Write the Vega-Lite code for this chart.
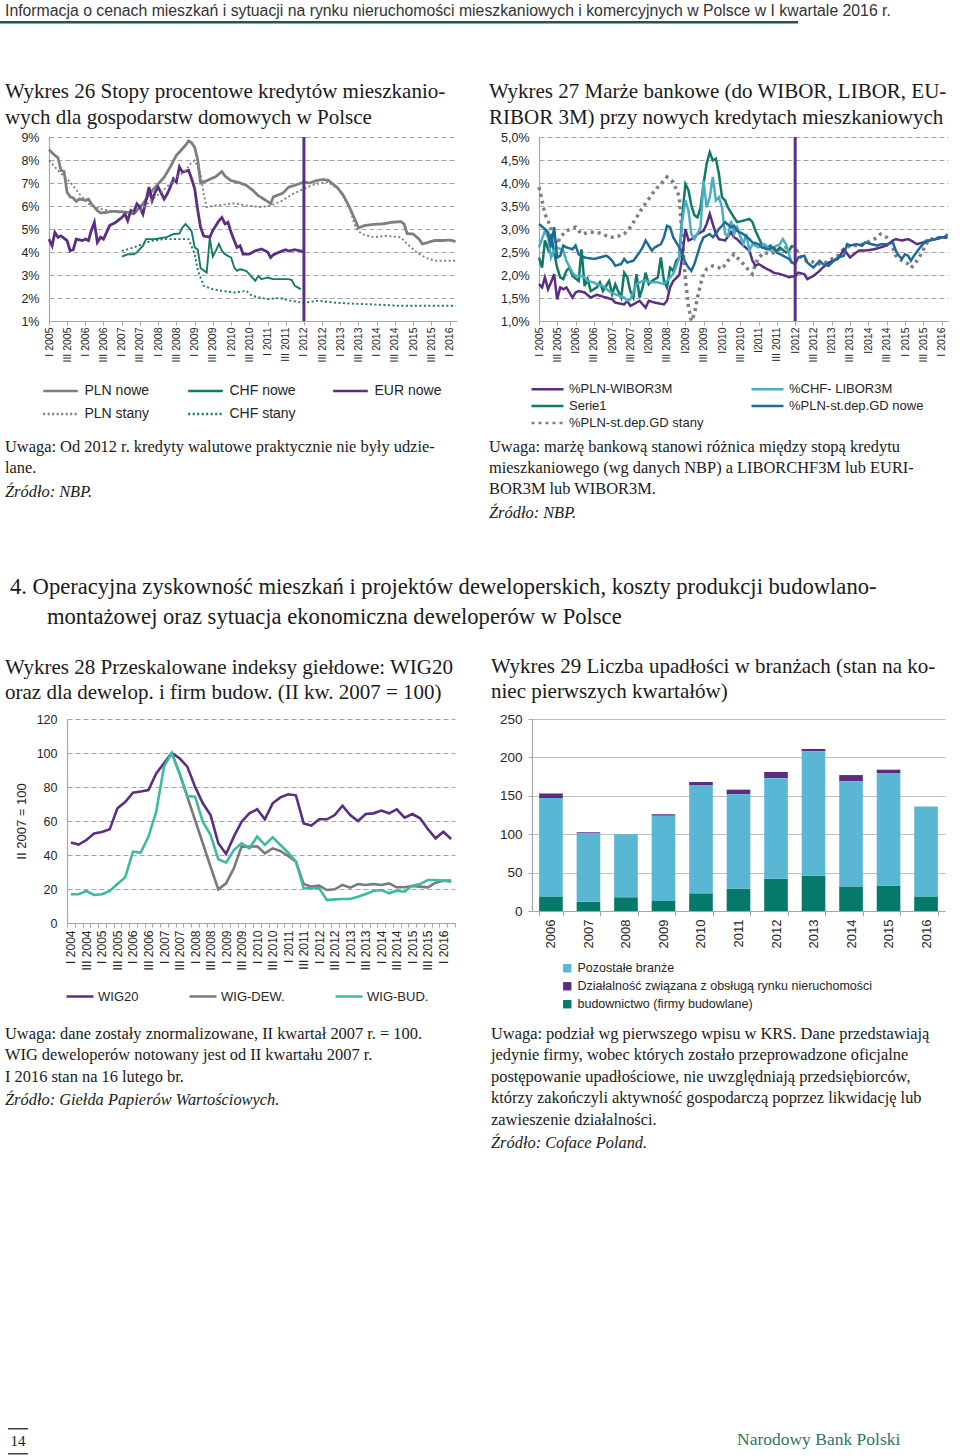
{
"$schema":"https://vega.github.io/schema/vega-lite/v6.json",
"background":"white",
"padding":{"left":0,"top":3,"right":0,"bottom":0},
"spacing":0,
"bounds":"flush",
"resolve":{"scale":{"color":"independent","strokeDash":"independent"},"legend":{"color":"independent","strokeDash":"independent"}},
"config":{
 "view":{"stroke":null},
 "font":"Liberation Sans",
 "title":{"font":"Liberation Serif","fontWeight":"normal","color":"#1a1a1a","anchor":"start","frame":"group","subtitleFont":"Liberation Serif","subtitleColor":"#1a1a1a","subtitleFontStyle":"italic"},
 "axis":{"labelFont":"Liberation Sans","labelColor":"#262626","titleFont":"Liberation Sans","titleFontWeight":"normal","titleColor":"#262626","domainColor":"#a6a6a6","tickColor":"#a6a6a6","gridColor":"#a6a6a6","domainWidth":1.2},
 "legend":{"labelFont":"Liberation Sans","labelColor":"#262626","labelLimit":400,"symbolStrokeWidth":2.5}
},
"vconcat":[
 {"width":798,"height":2.5,"view":{"fill":"#1d5a4e"},"data":{"values":[]},"mark":"point",
  "title":{"text":"Informacja o cenach mieszkań i sytuacji na rynku nieruchomości mieszkaniowych i komercyjnych w Polsce w I kwartale 2016 r.","font":"Liberation Sans","fontSize":15.8,"color":"#333333","offset":1,"dx":5}},
 {"width":1,"height":113,"data":{"values":[]},"mark":"point"},
 {"hconcat":[
  {"width":49,"height":184,"data":{"values":[]},"mark":"point"},
  {"width":408,"height":184,
   "title":{"text":["Wykres 26 Stopy procentowe kredytów mieszkanio-","wych dla gospodarstw domowych w Polsce"],"fontSize":21,"lineHeight":25.5,"dx":-44,"offset":3.5},
   "layer":[
    {"data":{"values":[
{"s":"PLN nowe","d":"2005-01","v":8.45},{"s":"PLN nowe","d":"2005-03","v":8.2},{"s":"PLN nowe","d":"2005-04","v":8.1},{"s":"PLN nowe","d":"2005-05","v":7.55},{"s":"PLN nowe","d":"2005-06","v":7.5},{"s":"PLN nowe","d":"2005-07","v":6.6},{"s":"PLN nowe","d":"2005-08","v":6.4},{"s":"PLN nowe","d":"2005-09","v":6.35},{"s":"PLN nowe","d":"2005-10","v":6.2},{"s":"PLN nowe","d":"2005-11","v":6.3},{"s":"PLN nowe","d":"2006-01","v":6.25},{"s":"PLN nowe","d":"2006-02","v":6.3},{"s":"PLN nowe","d":"2006-03","v":6.1},{"s":"PLN nowe","d":"2006-04","v":5.95},{"s":"PLN nowe","d":"2006-05","v":5.8},{"s":"PLN nowe","d":"2006-06","v":5.7},{"s":"PLN nowe","d":"2006-08","v":5.72},{"s":"PLN nowe","d":"2006-10","v":5.77},{"s":"PLN nowe","d":"2007-01","v":5.75},{"s":"PLN nowe","d":"2007-03","v":5.72},{"s":"PLN nowe","d":"2007-05","v":5.65},{"s":"PLN nowe","d":"2007-08","v":6.1},{"s":"PLN nowe","d":"2007-11","v":6.67},{"s":"PLN nowe","d":"2008-03","v":7.25},{"s":"PLN nowe","d":"2008-05","v":7.7},{"s":"PLN nowe","d":"2008-07","v":8.2},{"s":"PLN nowe","d":"2008-10","v":8.64},{"s":"PLN nowe","d":"2008-11","v":8.83},{"s":"PLN nowe","d":"2008-12","v":8.75},{"s":"PLN nowe","d":"2009-01","v":8.55},{"s":"PLN nowe","d":"2009-02","v":8.0},{"s":"PLN nowe","d":"2009-03","v":7.0},{"s":"PLN nowe","d":"2009-05","v":7.1},{"s":"PLN nowe","d":"2009-08","v":7.28},{"s":"PLN nowe","d":"2009-10","v":7.5},{"s":"PLN nowe","d":"2009-11","v":7.3},{"s":"PLN nowe","d":"2010-01","v":7.1},{"s":"PLN nowe","d":"2010-04","v":7.0},{"s":"PLN nowe","d":"2010-06","v":6.9},{"s":"PLN nowe","d":"2010-08","v":6.7},{"s":"PLN nowe","d":"2010-10","v":6.45},{"s":"PLN nowe","d":"2011-01","v":6.2},{"s":"PLN nowe","d":"2011-02","v":6.1},{"s":"PLN nowe","d":"2011-03","v":6.4},{"s":"PLN nowe","d":"2011-06","v":6.55},{"s":"PLN nowe","d":"2011-08","v":6.82},{"s":"PLN nowe","d":"2011-10","v":6.9},{"s":"PLN nowe","d":"2012-01","v":7.04},{"s":"PLN nowe","d":"2012-03","v":7.0},{"s":"PLN nowe","d":"2012-05","v":7.1},{"s":"PLN nowe","d":"2012-07","v":7.15},{"s":"PLN nowe","d":"2012-09","v":7.12},{"s":"PLN nowe","d":"2012-12","v":6.8},{"s":"PLN nowe","d":"2013-02","v":6.45},{"s":"PLN nowe","d":"2013-04","v":5.95},{"s":"PLN nowe","d":"2013-06","v":5.36},{"s":"PLN nowe","d":"2013-07","v":5.05},{"s":"PLN nowe","d":"2013-09","v":5.15},{"s":"PLN nowe","d":"2013-12","v":5.2},{"s":"PLN nowe","d":"2014-03","v":5.22},{"s":"PLN nowe","d":"2014-06","v":5.29},{"s":"PLN nowe","d":"2014-09","v":5.32},{"s":"PLN nowe","d":"2014-10","v":5.22},{"s":"PLN nowe","d":"2014-11","v":4.8},{"s":"PLN nowe","d":"2015-01","v":4.78},{"s":"PLN nowe","d":"2015-03","v":4.56},{"s":"PLN nowe","d":"2015-04","v":4.35},{"s":"PLN nowe","d":"2015-06","v":4.42},{"s":"PLN nowe","d":"2015-08","v":4.5},{"s":"PLN nowe","d":"2015-11","v":4.5},{"s":"PLN nowe","d":"2016-01","v":4.52},{"s":"PLN nowe","d":"2016-03","v":4.46},
{"s":"PLN stany","d":"2005-01","v":7.98},{"s":"PLN stany","d":"2005-04","v":7.55},{"s":"PLN stany","d":"2005-08","v":7.04},{"s":"PLN stany","d":"2005-11","v":6.53},{"s":"PLN stany","d":"2006-02","v":6.09},{"s":"PLN stany","d":"2006-06","v":5.87},{"s":"PLN stany","d":"2006-10","v":5.77},{"s":"PLN stany","d":"2007-02","v":5.68},{"s":"PLN stany","d":"2007-07","v":5.8},{"s":"PLN stany","d":"2007-10","v":6.16},{"s":"PLN stany","d":"2008-02","v":6.6},{"s":"PLN stany","d":"2008-06","v":7.1},{"s":"PLN stany","d":"2008-10","v":7.55},{"s":"PLN stany","d":"2008-12","v":7.9},{"s":"PLN stany","d":"2009-01","v":7.98},{"s":"PLN stany","d":"2009-03","v":7.4},{"s":"PLN stany","d":"2009-04","v":6.53},{"s":"PLN stany","d":"2009-05","v":5.95},{"s":"PLN stany","d":"2009-08","v":6.02},{"s":"PLN stany","d":"2010-02","v":6.12},{"s":"PLN stany","d":"2010-06","v":6.02},{"s":"PLN stany","d":"2010-11","v":5.95},{"s":"PLN stany","d":"2011-02","v":6.02},{"s":"PLN stany","d":"2011-06","v":6.24},{"s":"PLN stany","d":"2011-09","v":6.5},{"s":"PLN stany","d":"2012-01","v":6.75},{"s":"PLN stany","d":"2012-05","v":6.96},{"s":"PLN stany","d":"2012-09","v":7.04},{"s":"PLN stany","d":"2013-01","v":6.67},{"s":"PLN stany","d":"2013-04","v":5.95},{"s":"PLN stany","d":"2013-06","v":5.07},{"s":"PLN stany","d":"2013-08","v":4.78},{"s":"PLN stany","d":"2013-12","v":4.64},{"s":"PLN stany","d":"2014-04","v":4.7},{"s":"PLN stany","d":"2014-09","v":4.64},{"s":"PLN stany","d":"2014-11","v":4.35},{"s":"PLN stany","d":"2015-02","v":4.0},{"s":"PLN stany","d":"2015-05","v":3.76},{"s":"PLN stany","d":"2015-08","v":3.62},{"s":"PLN stany","d":"2015-11","v":3.62},{"s":"PLN stany","d":"2016-03","v":3.62},
{"s":"EUR nowe","d":"2005-01","v":4.56},{"s":"EUR nowe","d":"2005-02","v":4.27},{"s":"EUR nowe","d":"2005-03","v":4.85},{"s":"EUR nowe","d":"2005-04","v":4.64},{"s":"EUR nowe","d":"2005-05","v":4.7},{"s":"EUR nowe","d":"2005-07","v":4.5},{"s":"EUR nowe","d":"2005-08","v":4.05},{"s":"EUR nowe","d":"2005-09","v":4.1},{"s":"EUR nowe","d":"2005-10","v":4.56},{"s":"EUR nowe","d":"2005-12","v":4.5},{"s":"EUR nowe","d":"2006-01","v":4.56},{"s":"EUR nowe","d":"2006-02","v":4.5},{"s":"EUR nowe","d":"2006-03","v":4.93},{"s":"EUR nowe","d":"2006-04","v":5.29},{"s":"EUR nowe","d":"2006-05","v":4.42},{"s":"EUR nowe","d":"2006-06","v":4.64},{"s":"EUR nowe","d":"2006-07","v":4.56},{"s":"EUR nowe","d":"2006-08","v":4.85},{"s":"EUR nowe","d":"2006-09","v":5.15},{"s":"EUR nowe","d":"2006-11","v":5.29},{"s":"EUR nowe","d":"2007-01","v":5.5},{"s":"EUR nowe","d":"2007-02","v":5.65},{"s":"EUR nowe","d":"2007-03","v":5.36},{"s":"EUR nowe","d":"2007-04","v":5.8},{"s":"EUR nowe","d":"2007-05","v":5.73},{"s":"EUR nowe","d":"2007-06","v":6.09},{"s":"EUR nowe","d":"2007-07","v":5.95},{"s":"EUR nowe","d":"2007-08","v":5.65},{"s":"EUR nowe","d":"2007-09","v":6.24},{"s":"EUR nowe","d":"2007-10","v":6.82},{"s":"EUR nowe","d":"2007-11","v":6.24},{"s":"EUR nowe","d":"2007-12","v":6.6},{"s":"EUR nowe","d":"2008-01","v":6.82},{"s":"EUR nowe","d":"2008-03","v":6.3},{"s":"EUR nowe","d":"2008-04","v":6.53},{"s":"EUR nowe","d":"2008-05","v":6.82},{"s":"EUR nowe","d":"2008-06","v":7.18},{"s":"EUR nowe","d":"2008-07","v":7.04},{"s":"EUR nowe","d":"2008-08","v":7.7},{"s":"EUR nowe","d":"2008-09","v":7.47},{"s":"EUR nowe","d":"2008-11","v":7.55},{"s":"EUR nowe","d":"2008-12","v":7.18},{"s":"EUR nowe","d":"2009-01","v":6.75},{"s":"EUR nowe","d":"2009-02","v":5.8},{"s":"EUR nowe","d":"2009-03","v":5.07},{"s":"EUR nowe","d":"2009-04","v":4.7},{"s":"EUR nowe","d":"2009-06","v":4.64},{"s":"EUR nowe","d":"2009-07","v":4.93},{"s":"EUR nowe","d":"2009-09","v":5.36},{"s":"EUR nowe","d":"2009-10","v":5.5},{"s":"EUR nowe","d":"2009-11","v":5.22},{"s":"EUR nowe","d":"2009-12","v":5.29},{"s":"EUR nowe","d":"2010-01","v":4.85},{"s":"EUR nowe","d":"2010-03","v":4.2},{"s":"EUR nowe","d":"2010-04","v":4.27},{"s":"EUR nowe","d":"2010-05","v":3.91},{"s":"EUR nowe","d":"2010-07","v":3.91},{"s":"EUR nowe","d":"2010-09","v":4.05},{"s":"EUR nowe","d":"2010-11","v":4.13},{"s":"EUR nowe","d":"2011-01","v":4.0},{"s":"EUR nowe","d":"2011-02","v":3.76},{"s":"EUR nowe","d":"2011-03","v":3.88},{"s":"EUR nowe","d":"2011-05","v":4.0},{"s":"EUR nowe","d":"2011-07","v":4.1},{"s":"EUR nowe","d":"2011-08","v":4.04},{"s":"EUR nowe","d":"2011-10","v":4.1},{"s":"EUR nowe","d":"2011-12","v":4.04},{"s":"EUR nowe","d":"2012-01","v":4.02},
{"s":"CHF nowe","d":"2007-01","v":3.8},{"s":"CHF nowe","d":"2007-03","v":3.9},{"s":"CHF nowe","d":"2007-05","v":3.9},{"s":"CHF nowe","d":"2007-06","v":3.98},{"s":"CHF nowe","d":"2007-07","v":4.13},{"s":"CHF nowe","d":"2007-08","v":4.27},{"s":"CHF nowe","d":"2007-09","v":4.56},{"s":"CHF nowe","d":"2007-12","v":4.56},{"s":"CHF nowe","d":"2008-04","v":4.65},{"s":"CHF nowe","d":"2008-06","v":4.78},{"s":"CHF nowe","d":"2008-08","v":4.8},{"s":"CHF nowe","d":"2008-09","v":5.07},{"s":"CHF nowe","d":"2008-10","v":5.22},{"s":"CHF nowe","d":"2008-11","v":5.07},{"s":"CHF nowe","d":"2008-12","v":4.9},{"s":"CHF nowe","d":"2009-01","v":4.2},{"s":"CHF nowe","d":"2009-02","v":4.1},{"s":"CHF nowe","d":"2009-03","v":3.3},{"s":"CHF nowe","d":"2009-04","v":3.2},{"s":"CHF nowe","d":"2009-05","v":3.1},{"s":"CHF nowe","d":"2009-06","v":4.6},{"s":"CHF nowe","d":"2009-07","v":3.8},{"s":"CHF nowe","d":"2009-08","v":4.05},{"s":"CHF nowe","d":"2009-09","v":4.35},{"s":"CHF nowe","d":"2009-10","v":4.05},{"s":"CHF nowe","d":"2009-11","v":3.9},{"s":"CHF nowe","d":"2010-01","v":3.76},{"s":"CHF nowe","d":"2010-02","v":3.33},{"s":"CHF nowe","d":"2010-03","v":3.18},{"s":"CHF nowe","d":"2010-04","v":3.25},{"s":"CHF nowe","d":"2010-06","v":3.18},{"s":"CHF nowe","d":"2010-08","v":2.89},{"s":"CHF nowe","d":"2010-09","v":2.75},{"s":"CHF nowe","d":"2010-10","v":2.96},{"s":"CHF nowe","d":"2010-11","v":2.82},{"s":"CHF nowe","d":"2011-01","v":2.89},{"s":"CHF nowe","d":"2011-03","v":2.82},{"s":"CHF nowe","d":"2011-06","v":2.82},{"s":"CHF nowe","d":"2011-08","v":2.82},{"s":"CHF nowe","d":"2011-09","v":2.78},{"s":"CHF nowe","d":"2011-10","v":2.53},{"s":"CHF nowe","d":"2011-12","v":2.38},
{"s":"CHF stany","d":"2007-01","v":4.05},{"s":"CHF stany","d":"2007-05","v":4.2},{"s":"CHF stany","d":"2007-08","v":4.35},{"s":"CHF stany","d":"2007-11","v":4.49},{"s":"CHF stany","d":"2008-03","v":4.56},{"s":"CHF stany","d":"2008-08","v":4.56},{"s":"CHF stany","d":"2008-11","v":4.56},{"s":"CHF stany","d":"2009-01","v":3.9},{"s":"CHF stany","d":"2009-02","v":3.2},{"s":"CHF stany","d":"2009-04","v":2.53},{"s":"CHF stany","d":"2009-07","v":2.38},{"s":"CHF stany","d":"2009-10","v":2.31},{"s":"CHF stany","d":"2010-02","v":2.24},{"s":"CHF stany","d":"2010-06","v":2.31},{"s":"CHF stany","d":"2010-08","v":2.09},{"s":"CHF stany","d":"2011-01","v":1.95},{"s":"CHF stany","d":"2011-05","v":2.0},{"s":"CHF stany","d":"2011-09","v":1.87},{"s":"CHF stany","d":"2012-01","v":1.8},{"s":"CHF stany","d":"2012-06","v":1.88},{"s":"CHF stany","d":"2012-11","v":1.8},{"s":"CHF stany","d":"2013-04","v":1.76},{"s":"CHF stany","d":"2013-10","v":1.73},{"s":"CHF stany","d":"2014-03","v":1.7},{"s":"CHF stany","d":"2014-09","v":1.66},{"s":"CHF stany","d":"2015-03","v":1.66},{"s":"CHF stany","d":"2015-09","v":1.66},{"s":"CHF stany","d":"2016-03","v":1.66}
    ]},
     "encoding":{
      "x":{"field":"d","type":"temporal","scale":{"type":"utc","domain":[{"year":2005,"month":1,"date":1,"utc":true},{"year":2016,"month":3,"date":15,"utc":true}]},
        "axis":{"title":null,"tickCount":{"interval":"month","step":6},"labelExpr":"(utcmonth(datum.value) == 0 ? 'I ' : 'III ') + utcyear(datum.value)","labelAngle":-90,"labelFontSize":10.5,"labelPadding":2,"tickSize":4,"grid":false,"labelOverlap":false,"labelFlush":false,"labelBound":false}},
      "y":{"field":"v","type":"quantitative","scale":{"domain":[1,9],"nice":false,"zero":false},
        "axis":{"title":null,"values":[1,2,3,4,5,6,7,8,9],"labelExpr":"datum.value + '%'","labelFontSize":12.5,"ticks":false,"labelPadding":10,"gridDash":[5,3]}},
      "color":{"field":"s","type":"nominal","scale":{"domain":["PLN nowe","CHF nowe","EUR nowe","PLN stany","CHF stany"],"range":["#7f7f7f","#137a68","#5c2d84","#7f7f7f","#137a68"]},
        "legend":{"title":null,"orient":"none","legendX":1.5,"legendY":244,"direction":"horizontal","columns":3,"symbolType":"M-2,0H2","symbolSize":300,"labelFontSize":14,"labelOffset":14,"columnPadding":31,"rowPadding":6,"gridAlign":"all"}},
      "strokeDash":{"field":"s","type":"nominal","scale":{"domain":["PLN nowe","CHF nowe","EUR nowe","PLN stany","CHF stany"],"range":[[1,0],[1,0],[1,0],[2,2.5],[2,2.5]]},
        "legend":{"title":null,"orient":"none","legendX":1.5,"legendY":244,"direction":"horizontal","columns":3,"symbolType":"M-2,0H2","symbolSize":300,"labelFontSize":14,"labelOffset":14,"columnPadding":31,"rowPadding":6,"gridAlign":"all"}}
     },
     "layer":[
      {"transform":[{"filter":{"field":"s","oneOf":["PLN nowe","EUR nowe"]}}],"mark":{"type":"line","strokeWidth":2.8}},
      {"transform":[{"filter":{"field":"s","oneOf":["CHF nowe","PLN stany","CHF stany"]}}],"mark":{"type":"line","strokeWidth":1.9}}
     ]},
    {"data":{"values":[{"d":"2012-01"}]},"mark":{"type":"rule","color":"#5c2d84","strokeWidth":3},"encoding":{"x":{"field":"d","type":"temporal","title":null}}}
   ]},
  {"width":82,"height":184,"data":{"values":[]},"mark":"point"},
  {"width":409,"height":184,
   "title":{"text":["Wykres 27 Marże bankowe (do WIBOR, LIBOR, EU-","RIBOR 3M) przy nowych kredytach mieszkaniowych"],"fontSize":21,"lineHeight":25.5,"dx":-50,"offset":3.5},
   "layer":[
    {"data":{"values":[
{"s":"%PLN-WIBOR3M","d":"2005-01","v":1.8},{"s":"%PLN-WIBOR3M","d":"2005-02","v":1.73},{"s":"%PLN-WIBOR3M","d":"2005-03","v":1.95},{"s":"%PLN-WIBOR3M","d":"2005-04","v":1.69},{"s":"%PLN-WIBOR3M","d":"2005-05","v":1.84},{"s":"%PLN-WIBOR3M","d":"2005-06","v":2.02},{"s":"%PLN-WIBOR3M","d":"2005-07","v":1.47},{"s":"%PLN-WIBOR3M","d":"2005-08","v":1.73},{"s":"%PLN-WIBOR3M","d":"2005-09","v":1.69},{"s":"%PLN-WIBOR3M","d":"2005-10","v":1.73},{"s":"%PLN-WIBOR3M","d":"2005-12","v":1.51},{"s":"%PLN-WIBOR3M","d":"2006-01","v":1.62},{"s":"%PLN-WIBOR3M","d":"2006-02","v":1.65},{"s":"%PLN-WIBOR3M","d":"2006-04","v":1.62},{"s":"%PLN-WIBOR3M","d":"2006-06","v":1.51},{"s":"%PLN-WIBOR3M","d":"2006-08","v":1.57},{"s":"%PLN-WIBOR3M","d":"2006-11","v":1.51},{"s":"%PLN-WIBOR3M","d":"2007-01","v":1.47},{"s":"%PLN-WIBOR3M","d":"2007-02","v":1.4},{"s":"%PLN-WIBOR3M","d":"2007-05","v":1.36},{"s":"%PLN-WIBOR3M","d":"2007-06","v":1.44},{"s":"%PLN-WIBOR3M","d":"2007-07","v":1.33},{"s":"%PLN-WIBOR3M","d":"2007-08","v":1.36},{"s":"%PLN-WIBOR3M","d":"2007-10","v":1.44},{"s":"%PLN-WIBOR3M","d":"2007-12","v":1.29},{"s":"%PLN-WIBOR3M","d":"2008-01","v":1.44},{"s":"%PLN-WIBOR3M","d":"2008-03","v":1.4},{"s":"%PLN-WIBOR3M","d":"2008-06","v":1.36},{"s":"%PLN-WIBOR3M","d":"2008-07","v":1.44},{"s":"%PLN-WIBOR3M","d":"2008-08","v":1.73},{"s":"%PLN-WIBOR3M","d":"2008-09","v":1.87},{"s":"%PLN-WIBOR3M","d":"2008-11","v":2.0},{"s":"%PLN-WIBOR3M","d":"2008-12","v":2.4},{"s":"%PLN-WIBOR3M","d":"2009-01","v":3.0},{"s":"%PLN-WIBOR3M","d":"2009-02","v":2.75},{"s":"%PLN-WIBOR3M","d":"2009-03","v":2.78},{"s":"%PLN-WIBOR3M","d":"2009-04","v":2.82},{"s":"%PLN-WIBOR3M","d":"2009-05","v":2.89},{"s":"%PLN-WIBOR3M","d":"2009-07","v":2.96},{"s":"%PLN-WIBOR3M","d":"2009-08","v":3.11},{"s":"%PLN-WIBOR3M","d":"2009-09","v":3.33},{"s":"%PLN-WIBOR3M","d":"2009-10","v":3.11},{"s":"%PLN-WIBOR3M","d":"2009-11","v":2.89},{"s":"%PLN-WIBOR3M","d":"2009-12","v":2.78},{"s":"%PLN-WIBOR3M","d":"2010-02","v":2.75},{"s":"%PLN-WIBOR3M","d":"2010-04","v":2.93},{"s":"%PLN-WIBOR3M","d":"2010-05","v":2.82},{"s":"%PLN-WIBOR3M","d":"2010-06","v":2.78},{"s":"%PLN-WIBOR3M","d":"2010-08","v":2.64},{"s":"%PLN-WIBOR3M","d":"2010-10","v":2.53},{"s":"%PLN-WIBOR3M","d":"2010-11","v":2.31},{"s":"%PLN-WIBOR3M","d":"2010-12","v":2.2},{"s":"%PLN-WIBOR3M","d":"2011-01","v":2.24},{"s":"%PLN-WIBOR3M","d":"2011-03","v":2.16},{"s":"%PLN-WIBOR3M","d":"2011-05","v":2.09},{"s":"%PLN-WIBOR3M","d":"2011-06","v":2.05},{"s":"%PLN-WIBOR3M","d":"2011-08","v":2.02},{"s":"%PLN-WIBOR3M","d":"2011-10","v":1.98},{"s":"%PLN-WIBOR3M","d":"2011-11","v":1.95},{"s":"%PLN-WIBOR3M","d":"2012-01","v":1.98},{"s":"%PLN-WIBOR3M","d":"2012-02","v":2.05},{"s":"%PLN-WIBOR3M","d":"2012-04","v":2.02},{"s":"%PLN-WIBOR3M","d":"2012-05","v":1.91},{"s":"%PLN-WIBOR3M","d":"2012-07","v":1.98},{"s":"%PLN-WIBOR3M","d":"2012-09","v":2.09},{"s":"%PLN-WIBOR3M","d":"2012-10","v":2.16},{"s":"%PLN-WIBOR3M","d":"2012-12","v":2.27},{"s":"%PLN-WIBOR3M","d":"2013-03","v":2.35},{"s":"%PLN-WIBOR3M","d":"2013-04","v":2.45},{"s":"%PLN-WIBOR3M","d":"2013-05","v":2.56},{"s":"%PLN-WIBOR3M","d":"2013-07","v":2.38},{"s":"%PLN-WIBOR3M","d":"2013-09","v":2.49},{"s":"%PLN-WIBOR3M","d":"2013-10","v":2.53},{"s":"%PLN-WIBOR3M","d":"2013-12","v":2.53},{"s":"%PLN-WIBOR3M","d":"2014-03","v":2.56},{"s":"%PLN-WIBOR3M","d":"2014-05","v":2.6},{"s":"%PLN-WIBOR3M","d":"2014-07","v":2.64},{"s":"%PLN-WIBOR3M","d":"2014-09","v":2.75},{"s":"%PLN-WIBOR3M","d":"2014-10","v":2.78},{"s":"%PLN-WIBOR3M","d":"2014-12","v":2.75},{"s":"%PLN-WIBOR3M","d":"2015-02","v":2.78},{"s":"%PLN-WIBOR3M","d":"2015-03","v":2.75},{"s":"%PLN-WIBOR3M","d":"2015-05","v":2.67},{"s":"%PLN-WIBOR3M","d":"2015-07","v":2.71},{"s":"%PLN-WIBOR3M","d":"2015-09","v":2.75},{"s":"%PLN-WIBOR3M","d":"2015-11","v":2.78},{"s":"%PLN-WIBOR3M","d":"2016-01","v":2.82},{"s":"%PLN-WIBOR3M","d":"2016-03","v":2.82},
{"s":"Serie1","d":"2005-01","v":2.38},{"s":"Serie1","d":"2005-02","v":2.16},{"s":"Serie1","d":"2005-03","v":2.75},{"s":"Serie1","d":"2005-04","v":2.56},{"s":"Serie1","d":"2005-05","v":2.89},{"s":"Serie1","d":"2005-06","v":2.49},{"s":"Serie1","d":"2005-07","v":2.16},{"s":"Serie1","d":"2005-08","v":1.95},{"s":"Serie1","d":"2005-09","v":1.91},{"s":"Serie1","d":"2005-10","v":2.09},{"s":"Serie1","d":"2005-11","v":2.16},{"s":"Serie1","d":"2005-12","v":1.98},{"s":"Serie1","d":"2006-02","v":1.87},{"s":"Serie1","d":"2006-03","v":2.56},{"s":"Serie1","d":"2006-04","v":1.76},{"s":"Serie1","d":"2006-05","v":1.91},{"s":"Serie1","d":"2006-06","v":1.65},{"s":"Serie1","d":"2006-08","v":1.73},{"s":"Serie1","d":"2006-09","v":1.84},{"s":"Serie1","d":"2006-10","v":1.65},{"s":"Serie1","d":"2006-12","v":1.87},{"s":"Serie1","d":"2007-01","v":1.58},{"s":"Serie1","d":"2007-02","v":1.8},{"s":"Serie1","d":"2007-03","v":1.65},{"s":"Serie1","d":"2007-04","v":1.51},{"s":"Serie1","d":"2007-05","v":2.05},{"s":"Serie1","d":"2007-06","v":1.95},{"s":"Serie1","d":"2007-07","v":1.65},{"s":"Serie1","d":"2007-08","v":1.51},{"s":"Serie1","d":"2007-09","v":2.02},{"s":"Serie1","d":"2007-10","v":1.51},{"s":"Serie1","d":"2007-11","v":1.73},{"s":"Serie1","d":"2007-12","v":2.05},{"s":"Serie1","d":"2008-01","v":1.8},{"s":"Serie1","d":"2008-02","v":1.87},{"s":"Serie1","d":"2008-04","v":1.95},{"s":"Serie1","d":"2008-05","v":2.38},{"s":"Serie1","d":"2008-06","v":1.87},{"s":"Serie1","d":"2008-07","v":1.73},{"s":"Serie1","d":"2008-08","v":2.16},{"s":"Serie1","d":"2008-09","v":2.09},{"s":"Serie1","d":"2008-10","v":2.31},{"s":"Serie1","d":"2008-11","v":2.38},{"s":"Serie1","d":"2008-12","v":3.3},{"s":"Serie1","d":"2009-01","v":3.98},{"s":"Serie1","d":"2009-02","v":3.84},{"s":"Serie1","d":"2009-03","v":3.51},{"s":"Serie1","d":"2009-04","v":3.3},{"s":"Serie1","d":"2009-05","v":3.25},{"s":"Serie1","d":"2009-06","v":3.47},{"s":"Serie1","d":"2009-07","v":3.98},{"s":"Serie1","d":"2009-08","v":4.42},{"s":"Serie1","d":"2009-09","v":4.67},{"s":"Serie1","d":"2009-10","v":4.49},{"s":"Serie1","d":"2009-11","v":4.53},{"s":"Serie1","d":"2009-12","v":4.2},{"s":"Serie1","d":"2010-01","v":3.69},{"s":"Serie1","d":"2010-02","v":3.62},{"s":"Serie1","d":"2010-03","v":3.47},{"s":"Serie1","d":"2010-05","v":3.25},{"s":"Serie1","d":"2010-06","v":3.15},{"s":"Serie1","d":"2010-08","v":3.18},{"s":"Serie1","d":"2010-10","v":3.22},{"s":"Serie1","d":"2010-11","v":3.15},{"s":"Serie1","d":"2010-12","v":2.96},{"s":"Serie1","d":"2011-02","v":2.67},{"s":"Serie1","d":"2011-04","v":2.6},{"s":"Serie1","d":"2011-05","v":2.64},{"s":"Serie1","d":"2011-06","v":2.56},{"s":"Serie1","d":"2011-07","v":2.53},{"s":"Serie1","d":"2011-08","v":2.6},{"s":"Serie1","d":"2011-10","v":2.49},{"s":"Serie1","d":"2011-11","v":2.53},{"s":"Serie1","d":"2011-12","v":2.64},
{"s":"%CHF- LIBOR3M","d":"2005-01","v":2.6},{"s":"%CHF- LIBOR3M","d":"2005-03","v":2.96},{"s":"%CHF- LIBOR3M","d":"2005-04","v":2.82},{"s":"%CHF- LIBOR3M","d":"2005-05","v":2.38},{"s":"%CHF- LIBOR3M","d":"2005-06","v":2.53},{"s":"%CHF- LIBOR3M","d":"2005-07","v":2.6},{"s":"%CHF- LIBOR3M","d":"2005-09","v":2.53},{"s":"%CHF- LIBOR3M","d":"2005-10","v":2.31},{"s":"%CHF- LIBOR3M","d":"2005-12","v":2.05},{"s":"%CHF- LIBOR3M","d":"2006-01","v":1.98},{"s":"%CHF- LIBOR3M","d":"2006-03","v":1.98},{"s":"%CHF- LIBOR3M","d":"2006-04","v":1.95},{"s":"%CHF- LIBOR3M","d":"2006-05","v":1.87},{"s":"%CHF- LIBOR3M","d":"2006-07","v":1.84},{"s":"%CHF- LIBOR3M","d":"2006-08","v":1.8},{"s":"%CHF- LIBOR3M","d":"2006-10","v":1.76},{"s":"%CHF- LIBOR3M","d":"2006-12","v":1.65},{"s":"%CHF- LIBOR3M","d":"2007-02","v":1.58},{"s":"%CHF- LIBOR3M","d":"2007-05","v":1.51},{"s":"%CHF- LIBOR3M","d":"2007-06","v":1.44},{"s":"%CHF- LIBOR3M","d":"2007-07","v":1.47},{"s":"%CHF- LIBOR3M","d":"2007-09","v":1.8},{"s":"%CHF- LIBOR3M","d":"2007-11","v":1.87},{"s":"%CHF- LIBOR3M","d":"2007-12","v":1.87},{"s":"%CHF- LIBOR3M","d":"2008-02","v":1.84},{"s":"%CHF- LIBOR3M","d":"2008-04","v":1.84},{"s":"%CHF- LIBOR3M","d":"2008-06","v":1.8},{"s":"%CHF- LIBOR3M","d":"2008-08","v":1.95},{"s":"%CHF- LIBOR3M","d":"2008-09","v":2.02},{"s":"%CHF- LIBOR3M","d":"2008-11","v":2.38},{"s":"%CHF- LIBOR3M","d":"2008-12","v":3.2},{"s":"%CHF- LIBOR3M","d":"2009-01","v":3.62},{"s":"%CHF- LIBOR3M","d":"2009-02","v":3.4},{"s":"%CHF- LIBOR3M","d":"2009-03","v":2.89},{"s":"%CHF- LIBOR3M","d":"2009-04","v":2.78},{"s":"%CHF- LIBOR3M","d":"2009-05","v":2.9},{"s":"%CHF- LIBOR3M","d":"2009-06","v":3.04},{"s":"%CHF- LIBOR3M","d":"2009-07","v":4.05},{"s":"%CHF- LIBOR3M","d":"2009-08","v":3.47},{"s":"%CHF- LIBOR3M","d":"2009-09","v":3.69},{"s":"%CHF- LIBOR3M","d":"2009-10","v":4.13},{"s":"%CHF- LIBOR3M","d":"2009-11","v":3.62},{"s":"%CHF- LIBOR3M","d":"2009-12","v":3.69},{"s":"%CHF- LIBOR3M","d":"2010-01","v":3.47},{"s":"%CHF- LIBOR3M","d":"2010-02","v":2.89},{"s":"%CHF- LIBOR3M","d":"2010-03","v":2.85},{"s":"%CHF- LIBOR3M","d":"2010-04","v":3.18},{"s":"%CHF- LIBOR3M","d":"2010-05","v":2.89},{"s":"%CHF- LIBOR3M","d":"2010-06","v":3.04},{"s":"%CHF- LIBOR3M","d":"2010-07","v":2.85},{"s":"%CHF- LIBOR3M","d":"2010-08","v":2.67},{"s":"%CHF- LIBOR3M","d":"2010-09","v":2.89},{"s":"%CHF- LIBOR3M","d":"2010-10","v":2.53},{"s":"%CHF- LIBOR3M","d":"2010-11","v":2.67},{"s":"%CHF- LIBOR3M","d":"2011-01","v":2.6},{"s":"%CHF- LIBOR3M","d":"2011-03","v":2.67},{"s":"%CHF- LIBOR3M","d":"2011-05","v":2.53},{"s":"%CHF- LIBOR3M","d":"2011-06","v":2.6},{"s":"%CHF- LIBOR3M","d":"2011-08","v":2.67},{"s":"%CHF- LIBOR3M","d":"2011-09","v":2.78},{"s":"%CHF- LIBOR3M","d":"2011-10","v":2.67},{"s":"%CHF- LIBOR3M","d":"2011-11","v":2.45},{"s":"%CHF- LIBOR3M","d":"2011-12","v":2.24},
{"s":"%PLN-st.dep.GD nowe","d":"2005-01","v":3.11},{"s":"%PLN-st.dep.GD nowe","d":"2005-03","v":3.0},{"s":"%PLN-st.dep.GD nowe","d":"2005-04","v":2.93},{"s":"%PLN-st.dep.GD nowe","d":"2005-05","v":2.6},{"s":"%PLN-st.dep.GD nowe","d":"2005-06","v":3.04},{"s":"%PLN-st.dep.GD nowe","d":"2005-07","v":2.38},{"s":"%PLN-st.dep.GD nowe","d":"2005-08","v":2.42},{"s":"%PLN-st.dep.GD nowe","d":"2005-09","v":2.64},{"s":"%PLN-st.dep.GD nowe","d":"2005-10","v":2.6},{"s":"%PLN-st.dep.GD nowe","d":"2005-12","v":2.56},{"s":"%PLN-st.dep.GD nowe","d":"2006-01","v":2.64},{"s":"%PLN-st.dep.GD nowe","d":"2006-02","v":2.45},{"s":"%PLN-st.dep.GD nowe","d":"2006-03","v":2.42},{"s":"%PLN-st.dep.GD nowe","d":"2006-04","v":2.38},{"s":"%PLN-st.dep.GD nowe","d":"2006-07","v":2.35},{"s":"%PLN-st.dep.GD nowe","d":"2006-09","v":2.38},{"s":"%PLN-st.dep.GD nowe","d":"2006-11","v":2.42},{"s":"%PLN-st.dep.GD nowe","d":"2006-12","v":2.38},{"s":"%PLN-st.dep.GD nowe","d":"2007-01","v":2.31},{"s":"%PLN-st.dep.GD nowe","d":"2007-02","v":2.2},{"s":"%PLN-st.dep.GD nowe","d":"2007-04","v":2.24},{"s":"%PLN-st.dep.GD nowe","d":"2007-05","v":2.35},{"s":"%PLN-st.dep.GD nowe","d":"2007-06","v":2.27},{"s":"%PLN-st.dep.GD nowe","d":"2007-08","v":2.31},{"s":"%PLN-st.dep.GD nowe","d":"2007-10","v":2.49},{"s":"%PLN-st.dep.GD nowe","d":"2007-11","v":2.6},{"s":"%PLN-st.dep.GD nowe","d":"2007-12","v":2.75},{"s":"%PLN-st.dep.GD nowe","d":"2008-02","v":2.53},{"s":"%PLN-st.dep.GD nowe","d":"2008-03","v":2.6},{"s":"%PLN-st.dep.GD nowe","d":"2008-05","v":2.67},{"s":"%PLN-st.dep.GD nowe","d":"2008-06","v":2.82},{"s":"%PLN-st.dep.GD nowe","d":"2008-07","v":3.07},{"s":"%PLN-st.dep.GD nowe","d":"2008-08","v":3.04},{"s":"%PLN-st.dep.GD nowe","d":"2008-09","v":2.82},{"s":"%PLN-st.dep.GD nowe","d":"2008-11","v":2.6},{"s":"%PLN-st.dep.GD nowe","d":"2008-12","v":2.45},{"s":"%PLN-st.dep.GD nowe","d":"2009-01","v":2.27},{"s":"%PLN-st.dep.GD nowe","d":"2009-02","v":2.16},{"s":"%PLN-st.dep.GD nowe","d":"2009-03","v":2.09},{"s":"%PLN-st.dep.GD nowe","d":"2009-04","v":2.24},{"s":"%PLN-st.dep.GD nowe","d":"2009-05","v":2.45},{"s":"%PLN-st.dep.GD nowe","d":"2009-06","v":2.67},{"s":"%PLN-st.dep.GD nowe","d":"2009-07","v":2.82},{"s":"%PLN-st.dep.GD nowe","d":"2009-09","v":2.89},{"s":"%PLN-st.dep.GD nowe","d":"2009-10","v":2.82},{"s":"%PLN-st.dep.GD nowe","d":"2009-11","v":2.89},{"s":"%PLN-st.dep.GD nowe","d":"2009-12","v":3.0},{"s":"%PLN-st.dep.GD nowe","d":"2010-01","v":3.07},{"s":"%PLN-st.dep.GD nowe","d":"2010-02","v":3.15},{"s":"%PLN-st.dep.GD nowe","d":"2010-04","v":3.04},{"s":"%PLN-st.dep.GD nowe","d":"2010-05","v":3.07},{"s":"%PLN-st.dep.GD nowe","d":"2010-06","v":2.96},{"s":"%PLN-st.dep.GD nowe","d":"2010-08","v":2.89},{"s":"%PLN-st.dep.GD nowe","d":"2010-10","v":2.78},{"s":"%PLN-st.dep.GD nowe","d":"2010-11","v":2.71},{"s":"%PLN-st.dep.GD nowe","d":"2011-01","v":2.67},{"s":"%PLN-st.dep.GD nowe","d":"2011-02","v":2.6},{"s":"%PLN-st.dep.GD nowe","d":"2011-04","v":2.56},{"s":"%PLN-st.dep.GD nowe","d":"2011-06","v":2.6},{"s":"%PLN-st.dep.GD nowe","d":"2011-07","v":2.49},{"s":"%PLN-st.dep.GD nowe","d":"2011-09","v":2.42},{"s":"%PLN-st.dep.GD nowe","d":"2011-11","v":2.35},{"s":"%PLN-st.dep.GD nowe","d":"2011-12","v":2.27},{"s":"%PLN-st.dep.GD nowe","d":"2012-01","v":2.24},{"s":"%PLN-st.dep.GD nowe","d":"2012-02","v":2.38},{"s":"%PLN-st.dep.GD nowe","d":"2012-04","v":2.42},{"s":"%PLN-st.dep.GD nowe","d":"2012-05","v":2.27},{"s":"%PLN-st.dep.GD nowe","d":"2012-07","v":2.16},{"s":"%PLN-st.dep.GD nowe","d":"2012-09","v":2.31},{"s":"%PLN-st.dep.GD nowe","d":"2012-10","v":2.24},{"s":"%PLN-st.dep.GD nowe","d":"2012-12","v":2.2},{"s":"%PLN-st.dep.GD nowe","d":"2013-01","v":2.27},{"s":"%PLN-st.dep.GD nowe","d":"2013-03","v":2.38},{"s":"%PLN-st.dep.GD nowe","d":"2013-05","v":2.42},{"s":"%PLN-st.dep.GD nowe","d":"2013-06","v":2.67},{"s":"%PLN-st.dep.GD nowe","d":"2013-07","v":2.64},{"s":"%PLN-st.dep.GD nowe","d":"2013-09","v":2.67},{"s":"%PLN-st.dep.GD nowe","d":"2013-11","v":2.64},{"s":"%PLN-st.dep.GD nowe","d":"2013-12","v":2.71},{"s":"%PLN-st.dep.GD nowe","d":"2014-02","v":2.67},{"s":"%PLN-st.dep.GD nowe","d":"2014-04","v":2.64},{"s":"%PLN-st.dep.GD nowe","d":"2014-05","v":2.67},{"s":"%PLN-st.dep.GD nowe","d":"2014-07","v":2.67},{"s":"%PLN-st.dep.GD nowe","d":"2014-09","v":2.71},{"s":"%PLN-st.dep.GD nowe","d":"2014-10","v":2.53},{"s":"%PLN-st.dep.GD nowe","d":"2014-11","v":2.42},{"s":"%PLN-st.dep.GD nowe","d":"2014-12","v":2.35},{"s":"%PLN-st.dep.GD nowe","d":"2015-01","v":2.45},{"s":"%PLN-st.dep.GD nowe","d":"2015-02","v":2.42},{"s":"%PLN-st.dep.GD nowe","d":"2015-03","v":2.31},{"s":"%PLN-st.dep.GD nowe","d":"2015-04","v":2.42},{"s":"%PLN-st.dep.GD nowe","d":"2015-06","v":2.6},{"s":"%PLN-st.dep.GD nowe","d":"2015-08","v":2.75},{"s":"%PLN-st.dep.GD nowe","d":"2015-09","v":2.75},{"s":"%PLN-st.dep.GD nowe","d":"2015-11","v":2.78},{"s":"%PLN-st.dep.GD nowe","d":"2015-12","v":2.82},{"s":"%PLN-st.dep.GD nowe","d":"2016-02","v":2.82},{"s":"%PLN-st.dep.GD nowe","d":"2016-03","v":2.89},
{"s":"%PLN-st.dep.GD stany","d":"2005-01","v":3.91},{"s":"%PLN-st.dep.GD stany","d":"2005-02","v":3.62},{"s":"%PLN-st.dep.GD stany","d":"2005-03","v":3.33},{"s":"%PLN-st.dep.GD stany","d":"2005-04","v":3.18},{"s":"%PLN-st.dep.GD stany","d":"2005-06","v":2.82},{"s":"%PLN-st.dep.GD stany","d":"2005-07","v":2.67},{"s":"%PLN-st.dep.GD stany","d":"2005-08","v":2.82},{"s":"%PLN-st.dep.GD stany","d":"2005-10","v":2.96},{"s":"%PLN-st.dep.GD stany","d":"2006-01","v":3.04},{"s":"%PLN-st.dep.GD stany","d":"2006-03","v":2.89},{"s":"%PLN-st.dep.GD stany","d":"2006-06","v":2.93},{"s":"%PLN-st.dep.GD stany","d":"2006-08","v":2.93},{"s":"%PLN-st.dep.GD stany","d":"2006-10","v":2.89},{"s":"%PLN-st.dep.GD stany","d":"2006-12","v":2.82},{"s":"%PLN-st.dep.GD stany","d":"2007-02","v":2.82},{"s":"%PLN-st.dep.GD stany","d":"2007-05","v":2.89},{"s":"%PLN-st.dep.GD stany","d":"2007-07","v":3.04},{"s":"%PLN-st.dep.GD stany","d":"2007-09","v":3.25},{"s":"%PLN-st.dep.GD stany","d":"2007-11","v":3.47},{"s":"%PLN-st.dep.GD stany","d":"2008-01","v":3.65},{"s":"%PLN-st.dep.GD stany","d":"2008-03","v":3.84},{"s":"%PLN-st.dep.GD stany","d":"2008-06","v":4.05},{"s":"%PLN-st.dep.GD stany","d":"2008-07","v":4.13},{"s":"%PLN-st.dep.GD stany","d":"2008-09","v":4.02},{"s":"%PLN-st.dep.GD stany","d":"2008-11","v":3.7},{"s":"%PLN-st.dep.GD stany","d":"2008-12","v":2.75},{"s":"%PLN-st.dep.GD stany","d":"2009-01","v":1.9},{"s":"%PLN-st.dep.GD stany","d":"2009-02","v":1.3},{"s":"%PLN-st.dep.GD stany","d":"2009-03","v":1.0},{"s":"%PLN-st.dep.GD stany","d":"2009-04","v":1.15},{"s":"%PLN-st.dep.GD stany","d":"2009-05","v":1.51},{"s":"%PLN-st.dep.GD stany","d":"2009-06","v":1.8},{"s":"%PLN-st.dep.GD stany","d":"2009-07","v":2.02},{"s":"%PLN-st.dep.GD stany","d":"2009-08","v":2.13},{"s":"%PLN-st.dep.GD stany","d":"2009-10","v":2.2},{"s":"%PLN-st.dep.GD stany","d":"2009-12","v":2.16},{"s":"%PLN-st.dep.GD stany","d":"2010-01","v":2.13},{"s":"%PLN-st.dep.GD stany","d":"2010-03","v":2.31},{"s":"%PLN-st.dep.GD stany","d":"2010-05","v":2.45},{"s":"%PLN-st.dep.GD stany","d":"2010-06","v":2.38},{"s":"%PLN-st.dep.GD stany","d":"2010-08","v":2.24},{"s":"%PLN-st.dep.GD stany","d":"2010-10","v":2.09},{"s":"%PLN-st.dep.GD stany","d":"2010-11","v":2.02},{"s":"%PLN-st.dep.GD stany","d":"2010-12","v":2.24},{"s":"%PLN-st.dep.GD stany","d":"2011-01","v":2.38},{"s":"%PLN-st.dep.GD stany","d":"2011-03","v":2.49},{"s":"%PLN-st.dep.GD stany","d":"2011-05","v":2.45},{"s":"%PLN-st.dep.GD stany","d":"2011-06","v":2.49},{"s":"%PLN-st.dep.GD stany","d":"2011-08","v":2.56},{"s":"%PLN-st.dep.GD stany","d":"2011-10","v":2.6},{"s":"%PLN-st.dep.GD stany","d":"2011-11","v":2.64},{"s":"%PLN-st.dep.GD stany","d":"2012-01","v":2.6},{"s":"%PLN-st.dep.GD stany","d":"2012-03","v":2.38},{"s":"%PLN-st.dep.GD stany","d":"2012-04","v":2.31},{"s":"%PLN-st.dep.GD stany","d":"2012-06","v":2.31},{"s":"%PLN-st.dep.GD stany","d":"2012-08","v":2.24},{"s":"%PLN-st.dep.GD stany","d":"2012-10","v":2.24},{"s":"%PLN-st.dep.GD stany","d":"2012-12","v":2.31},{"s":"%PLN-st.dep.GD stany","d":"2013-03","v":2.42},{"s":"%PLN-st.dep.GD stany","d":"2013-05","v":2.56},{"s":"%PLN-st.dep.GD stany","d":"2013-07","v":2.64},{"s":"%PLN-st.dep.GD stany","d":"2013-09","v":2.64},{"s":"%PLN-st.dep.GD stany","d":"2013-11","v":2.67},{"s":"%PLN-st.dep.GD stany","d":"2014-02","v":2.75},{"s":"%PLN-st.dep.GD stany","d":"2014-04","v":2.82},{"s":"%PLN-st.dep.GD stany","d":"2014-05","v":2.89},{"s":"%PLN-st.dep.GD stany","d":"2014-07","v":2.82},{"s":"%PLN-st.dep.GD stany","d":"2014-09","v":2.6},{"s":"%PLN-st.dep.GD stany","d":"2014-10","v":2.42},{"s":"%PLN-st.dep.GD stany","d":"2014-12","v":2.31},{"s":"%PLN-st.dep.GD stany","d":"2015-02","v":2.24},{"s":"%PLN-st.dep.GD stany","d":"2015-03","v":2.16},{"s":"%PLN-st.dep.GD stany","d":"2015-04","v":2.22},{"s":"%PLN-st.dep.GD stany","d":"2015-06","v":2.42},{"s":"%PLN-st.dep.GD stany","d":"2015-08","v":2.67},{"s":"%PLN-st.dep.GD stany","d":"2015-09","v":2.78},{"s":"%PLN-st.dep.GD stany","d":"2015-11","v":2.78},{"s":"%PLN-st.dep.GD stany","d":"2016-01","v":2.82},{"s":"%PLN-st.dep.GD stany","d":"2016-03","v":2.82}
    ]},
     "encoding":{
      "x":{"field":"d","type":"temporal","scale":{"type":"utc","domain":[{"year":2005,"month":1,"date":1,"utc":true},{"year":2016,"month":3,"date":5,"utc":true}]},
        "axis":{"title":null,"tickCount":{"interval":"month","step":6},"labelExpr":"(utcmonth(datum.value) == 0 ? ((utcyear(datum.value) >= 2006 && utcyear(datum.value) <= 2014) ? 'I' : 'I ') : 'III ') + utcyear(datum.value)","labelAngle":-90,"labelFontSize":10.5,"labelPadding":2,"tickSize":4,"grid":false,"labelOverlap":false,"labelFlush":false,"labelBound":false}},
      "y":{"field":"v","type":"quantitative","scale":{"domain":[1,5],"nice":false,"zero":false},
        "axis":{"title":null,"values":[1,1.5,2,2.5,3,3.5,4,4.5,5],"labelExpr":"replace(format(datum.value, '.1f'), '.', ',') + '%'","labelFontSize":12.5,"ticks":false,"labelPadding":10,"gridDash":[5,3]}},
      "color":{"field":"s","type":"nominal","scale":{"domain":["%PLN-WIBOR3M","%CHF- LIBOR3M","Serie1","%PLN-st.dep.GD nowe","%PLN-st.dep.GD stany"],"range":["#5c2d84","#4bacc6","#107a66","#1d6b9a","#7f7f7f"]},
        "legend":{"title":null,"orient":"none","legendX":-1,"legendY":242.5,"direction":"horizontal","columns":2,"symbolType":"M-2,0H2","symbolSize":256,"labelFontSize":13,"labelOffset":12,"columnPadding":42,"rowPadding":0,"gridAlign":"each"}},
      "strokeDash":{"field":"s","type":"nominal","scale":{"domain":["%PLN-WIBOR3M","%CHF- LIBOR3M","Serie1","%PLN-st.dep.GD nowe","%PLN-st.dep.GD stany"],"range":[[1,0],[1,0],[1,0],[1,0],[3,4]]},
        "legend":{"title":null,"orient":"none","legendX":-1,"legendY":242.5,"direction":"horizontal","columns":2,"symbolType":"M-2,0H2","symbolSize":256,"labelFontSize":13,"labelOffset":12,"columnPadding":42,"rowPadding":0,"gridAlign":"each"}}
     },
     "layer":[
      {"transform":[{"filter":{"field":"s","oneOf":["%PLN-st.dep.GD stany"]}}],"mark":{"type":"line","strokeWidth":3.5}},
      {"transform":[{"filter":{"field":"s","oneOf":["%PLN-WIBOR3M","%CHF- LIBOR3M","Serie1","%PLN-st.dep.GD nowe"]}}],"mark":{"type":"line","strokeWidth":2.5}}
     ]},
    {"data":{"values":[{"d":"2012-01"}]},"mark":{"type":"rule","color":"#5c2d84","strokeWidth":3},"encoding":{"x":{"field":"d","type":"temporal","title":null}}}
   ]}
 ],"spacing":0,"bounds":"flush","resolve":{"scale":{"color":"independent","strokeDash":"independent"},"legend":{"color":"independent","strokeDash":"independent"}}},
 {"width":1,"height":184,"data":{"values":[]},"mark":"point"},
 {"hconcat":[
  {"width":5,"height":117.5,"data":{"values":[]},"mark":"point"},
  {"width":484,"height":117.5,"data":{"values":[]},"mark":"point",
   "title":{"text":["Uwaga: Od 2012 r. kredyty walutowe praktycznie nie były udzie-","lane."],"subtitle":"Źródło: NBP.","orient":"bottom","fontSize":16.4,"lineHeight":21,"subtitleFontSize":16.4,"subtitlePadding":8,"offset":0}},
  {"width":466,"height":117.5,"data":{"values":[]},"mark":"point",
   "title":{"text":["Uwaga: marżę bankową stanowi różnica między stopą kredytu","mieszkaniowego (wg danych NBP) a LIBORCHF3M lub EURI-","BOR3M lub WIBOR3M."],"subtitle":"Źródło: NBP.","orient":"bottom","fontSize":16.4,"lineHeight":21,"subtitleFontSize":16.4,"subtitlePadding":8,"offset":0}}
 ],"spacing":0,"bounds":"flush"},
 {"width":1,"height":117.5,"data":{"values":[]},"mark":"point"},
 {"hconcat":[
  {"width":10,"height":137,"data":{"values":[]},"mark":"point"},
  {"width":940,"height":137,"data":{"values":[]},"mark":"point",
   "title":{"text":"4. Operacyjna zyskowność mieszkań i projektów deweloperskich, koszty produkcji budowlano-","orient":"bottom","fontSize":22.6,"offset":0}}
 ],"spacing":0,"bounds":"flush"},
 {"hconcat":[
  {"width":47,"height":167,"data":{"values":[]},"mark":"point"},
  {"width":900,"height":167,"data":{"values":[]},"mark":"point",
   "title":{"text":"montażowej oraz sytuacja ekonomiczna deweloperów w Polsce","orient":"bottom","fontSize":22.6,"offset":0}}
 ],"spacing":0,"bounds":"flush"},
 {"width":1,"height":279.5,"data":{"values":[]},"mark":"point"},
 {"hconcat":[
  {"width":67,"height":204,"data":{"values":[]},"mark":"point"},
  {"width":388,"height":204,
   "title":{"text":["Wykres 28 Przeskalowane indeksy giełdowe: WIG20","oraz dla dewelop. i firm budow. (II kw. 2007 = 100)"],"fontSize":21,"lineHeight":25.5,"dx":-62,"offset":9.6},
   "data":{"values":[
{"s":"WIG20","q":"I 2004","v":47.3},{"s":"WIG20","q":"II 2004","v":46.1},{"s":"WIG20","q":"III 2004","v":48.8},{"s":"WIG20","q":"IV 2004","v":52.7},{"s":"WIG20","q":"I 2005","v":53.5},{"s":"WIG20","q":"II 2005","v":55.1},{"s":"WIG20","q":"III 2005","v":67.5},{"s":"WIG20","q":"IV 2005","v":71.2},{"s":"WIG20","q":"I 2006","v":76.7},{"s":"WIG20","q":"II 2006","v":77.3},{"s":"WIG20","q":"III 2006","v":78.2},{"s":"WIG20","q":"IV 2006","v":88},{"s":"WIG20","q":"I 2007","v":94},{"s":"WIG20","q":"II 2007","v":100},{"s":"WIG20","q":"III 2007","v":96.9},{"s":"WIG20","q":"IV 2007","v":92},{"s":"WIG20","q":"I 2008","v":80.2},{"s":"WIG20","q":"II 2008","v":70.4},{"s":"WIG20","q":"III 2008","v":63.5},{"s":"WIG20","q":"IV 2008","v":46.9},{"s":"WIG20","q":"I 2009","v":40.6},{"s":"WIG20","q":"II 2009","v":50.8},{"s":"WIG20","q":"III 2009","v":59.6},{"s":"WIG20","q":"IV 2009","v":64.5},{"s":"WIG20","q":"I 2010","v":66.9},{"s":"WIG20","q":"II 2010","v":61},{"s":"WIG20","q":"III 2010","v":70.4},{"s":"WIG20","q":"IV 2010","v":73.9},{"s":"WIG20","q":"I 2011","v":75.7},{"s":"WIG20","q":"II 2011","v":75.1},{"s":"WIG20","q":"III 2011","v":58.6},{"s":"WIG20","q":"IV 2011","v":57.3},{"s":"WIG20","q":"I 2012","v":61},{"s":"WIG20","q":"II 2012","v":61},{"s":"WIG20","q":"III 2012","v":63.5},{"s":"WIG20","q":"IV 2012","v":69},{"s":"WIG20","q":"I 2013","v":63.5},{"s":"WIG20","q":"II 2013","v":60},{"s":"WIG20","q":"III 2013","v":64.1},{"s":"WIG20","q":"IV 2013","v":64.5},{"s":"WIG20","q":"I 2014","v":66.1},{"s":"WIG20","q":"II 2014","v":64.5},{"s":"WIG20","q":"III 2014","v":66.9},{"s":"WIG20","q":"IV 2014","v":62},{"s":"WIG20","q":"I 2015","v":64.1},{"s":"WIG20","q":"II 2015","v":61.6},{"s":"WIG20","q":"III 2015","v":55.3},{"s":"WIG20","q":"IV 2015","v":49.8},{"s":"WIG20","q":"I 2016","v":53.7},{"s":"WIG20","q":"II 2016","v":49.4},
{"s":"WIG-DEW.","q":"II 2007","v":100},{"s":"WIG-DEW.","q":"III 2007","v":88},{"s":"WIG-DEW.","q":"IV 2007","v":74.3},{"s":"WIG-DEW.","q":"I 2008","v":60.6},{"s":"WIG-DEW.","q":"II 2008","v":46.9},{"s":"WIG-DEW.","q":"III 2008","v":33.1},{"s":"WIG-DEW.","q":"IV 2008","v":19.8},{"s":"WIG-DEW.","q":"I 2009","v":23.3},{"s":"WIG-DEW.","q":"II 2009","v":32.2},{"s":"WIG-DEW.","q":"III 2009","v":44.9},{"s":"WIG-DEW.","q":"IV 2009","v":44.9},{"s":"WIG-DEW.","q":"I 2010","v":45.1},{"s":"WIG-DEW.","q":"II 2010","v":41},{"s":"WIG-DEW.","q":"III 2010","v":43.9},{"s":"WIG-DEW.","q":"IV 2010","v":42.4},{"s":"WIG-DEW.","q":"I 2011","v":39.4},{"s":"WIG-DEW.","q":"II 2011","v":36.1},{"s":"WIG-DEW.","q":"III 2011","v":22.9},{"s":"WIG-DEW.","q":"IV 2011","v":21.4},{"s":"WIG-DEW.","q":"I 2012","v":22},{"s":"WIG-DEW.","q":"II 2012","v":19.4},{"s":"WIG-DEW.","q":"III 2012","v":19.8},{"s":"WIG-DEW.","q":"IV 2012","v":22.4},{"s":"WIG-DEW.","q":"I 2013","v":20.8},{"s":"WIG-DEW.","q":"II 2013","v":22.9},{"s":"WIG-DEW.","q":"III 2013","v":22.4},{"s":"WIG-DEW.","q":"IV 2013","v":22.9},{"s":"WIG-DEW.","q":"I 2014","v":22.4},{"s":"WIG-DEW.","q":"II 2014","v":23.3},{"s":"WIG-DEW.","q":"III 2014","v":21},{"s":"WIG-DEW.","q":"IV 2014","v":21},{"s":"WIG-DEW.","q":"I 2015","v":21.8},{"s":"WIG-DEW.","q":"II 2015","v":21.4},{"s":"WIG-DEW.","q":"III 2015","v":21},{"s":"WIG-DEW.","q":"IV 2015","v":23.7},{"s":"WIG-DEW.","q":"I 2016","v":24.9},{"s":"WIG-DEW.","q":"II 2016","v":24.9},
{"s":"WIG-BUD.","q":"I 2004","v":16.9},{"s":"WIG-BUD.","q":"II 2004","v":16.9},{"s":"WIG-BUD.","q":"III 2004","v":18.8},{"s":"WIG-BUD.","q":"IV 2004","v":16.5},{"s":"WIG-BUD.","q":"I 2005","v":16.9},{"s":"WIG-BUD.","q":"II 2005","v":18.8},{"s":"WIG-BUD.","q":"III 2005","v":22.9},{"s":"WIG-BUD.","q":"IV 2005","v":26.9},{"s":"WIG-BUD.","q":"I 2006","v":42},{"s":"WIG-BUD.","q":"II 2006","v":41.4},{"s":"WIG-BUD.","q":"III 2006","v":50.8},{"s":"WIG-BUD.","q":"IV 2006","v":65.5},{"s":"WIG-BUD.","q":"I 2007","v":92},{"s":"WIG-BUD.","q":"II 2007","v":100},{"s":"WIG-BUD.","q":"III 2007","v":88},{"s":"WIG-BUD.","q":"IV 2007","v":74.7},{"s":"WIG-BUD.","q":"I 2008","v":74.3},{"s":"WIG-BUD.","q":"II 2008","v":59.6},{"s":"WIG-BUD.","q":"III 2008","v":51.8},{"s":"WIG-BUD.","q":"IV 2008","v":37.5},{"s":"WIG-BUD.","q":"I 2009","v":35.5},{"s":"WIG-BUD.","q":"II 2009","v":42.9},{"s":"WIG-BUD.","q":"III 2009","v":46.9},{"s":"WIG-BUD.","q":"IV 2009","v":43.9},{"s":"WIG-BUD.","q":"I 2010","v":50.8},{"s":"WIG-BUD.","q":"II 2010","v":45.9},{"s":"WIG-BUD.","q":"III 2010","v":50.4},{"s":"WIG-BUD.","q":"IV 2010","v":45.9},{"s":"WIG-BUD.","q":"I 2011","v":41.4},{"s":"WIG-BUD.","q":"II 2011","v":36.1},{"s":"WIG-BUD.","q":"III 2011","v":20.4},{"s":"WIG-BUD.","q":"IV 2011","v":20.4},{"s":"WIG-BUD.","q":"I 2012","v":20.4},{"s":"WIG-BUD.","q":"II 2012","v":13.5},{"s":"WIG-BUD.","q":"III 2012","v":13.9},{"s":"WIG-BUD.","q":"IV 2012","v":14.1},{"s":"WIG-BUD.","q":"I 2013","v":14.1},{"s":"WIG-BUD.","q":"II 2013","v":15.5},{"s":"WIG-BUD.","q":"III 2013","v":17.1},{"s":"WIG-BUD.","q":"IV 2013","v":18.8},{"s":"WIG-BUD.","q":"I 2014","v":19.4},{"s":"WIG-BUD.","q":"II 2014","v":17.5},{"s":"WIG-BUD.","q":"III 2014","v":19},{"s":"WIG-BUD.","q":"IV 2014","v":18.4},{"s":"WIG-BUD.","q":"I 2015","v":22},{"s":"WIG-BUD.","q":"II 2015","v":22.9},{"s":"WIG-BUD.","q":"III 2015","v":25.3},{"s":"WIG-BUD.","q":"IV 2015","v":25.3},{"s":"WIG-BUD.","q":"I 2016","v":24.9},{"s":"WIG-BUD.","q":"II 2016","v":24.3}
   ]},
   "mark":{"type":"line","strokeWidth":2.6},
   "encoding":{
    "x":{"field":"q","type":"ordinal","sort":null,"bandPosition":0.5,"scale":{"type":"band","paddingInner":0,"paddingOuter":0},
      "axis":{"title":null,"labelAngle":-90,"labelFontSize":12,"labelPadding":3,"tickBand":"extent","tickSize":4,"labelOverlap":false,"grid":false,"labelExpr":"(indexof(datum.label, 'II ') == 0 || indexof(datum.label, 'IV') == 0) ? '' : datum.label"}},
    "y":{"field":"v","type":"quantitative","scale":{"domain":[0,120],"nice":false},
      "axis":{"title":"II 2007 = 100","titleFontSize":13,"titlePadding":8,"values":[0,20,40,60,80,100,120],"labelFontSize":12.5,"ticks":false,"labelPadding":10,"gridDash":[5,3]}},
    "color":{"field":"s","type":"nominal","scale":{"domain":["WIG20","WIG-DEW.","WIG-BUD."],"range":["#5c2d84","#7a7a7a","#3dbaa2"]},
      "legend":{"title":null,"orient":"none","legendX":-2,"legendY":262.5,"direction":"horizontal","columns":3,"symbolType":"stroke","symbolSize":729,"labelFontSize":13,"labelOffset":3,"columnPadding":45,"gridAlign":"each"}}
   }},
  {"width":77,"height":204,"data":{"values":[]},"mark":"point"},
  {"width":413,"height":192,
   "title":{"text":["Wykres 29 Liczba upadłości w branżach (stan na ko-","niec pierwszych kwartałów)"],"fontSize":21,"lineHeight":25.5,"dx":-41,"offset":9.6},
   "data":{"values":[
{"y":"2006","k":"budownictwo (firmy budowlane)","v":19},{"y":"2006","k":"Działalność związana z obsługą rynku nieruchomości","v":6},{"y":"2006","k":"Pozostałe branże","v":128},
{"y":"2007","k":"budownictwo (firmy budowlane)","v":12},{"y":"2007","k":"Działalność związana z obsługą rynku nieruchomości","v":1.5},{"y":"2007","k":"Pozostałe branże","v":89},
{"y":"2008","k":"budownictwo (firmy budowlane)","v":18},{"y":"2008","k":"Działalność związana z obsługą rynku nieruchomości","v":0},{"y":"2008","k":"Pozostałe branże","v":82},
{"y":"2009","k":"budownictwo (firmy budowlane)","v":13},{"y":"2009","k":"Działalność związana z obsługą rynku nieruchomości","v":2},{"y":"2009","k":"Pozostałe branże","v":111},
{"y":"2010","k":"budownictwo (firmy budowlane)","v":23},{"y":"2010","k":"Działalność związana z obsługą rynku nieruchomości","v":4},{"y":"2010","k":"Pozostałe branże","v":141},
{"y":"2011","k":"budownictwo (firmy budowlane)","v":29},{"y":"2011","k":"Działalność związana z obsługą rynku nieruchomości","v":6},{"y":"2011","k":"Pozostałe branże","v":123},
{"y":"2012","k":"budownictwo (firmy budowlane)","v":42},{"y":"2012","k":"Działalność związana z obsługą rynku nieruchomości","v":8},{"y":"2012","k":"Pozostałe branże","v":131},
{"y":"2013","k":"budownictwo (firmy budowlane)","v":46},{"y":"2013","k":"Działalność związana z obsługą rynku nieruchomości","v":3},{"y":"2013","k":"Pozostałe branże","v":162},
{"y":"2014","k":"budownictwo (firmy budowlane)","v":32},{"y":"2014","k":"Działalność związana z obsługą rynku nieruchomości","v":8},{"y":"2014","k":"Pozostałe branże","v":137},
{"y":"2015","k":"budownictwo (firmy budowlane)","v":33},{"y":"2015","k":"Działalność związana z obsługą rynku nieruchomości","v":5},{"y":"2015","k":"Pozostałe branże","v":146},
{"y":"2016","k":"budownictwo (firmy budowlane)","v":19},{"y":"2016","k":"Działalność związana z obsługą rynku nieruchomości","v":0},{"y":"2016","k":"Pozostałe branże","v":117}
   ]},
   "mark":{"type":"bar"},
   "encoding":{
    "x":{"field":"y","type":"ordinal","scale":{"paddingInner":0.37,"paddingOuter":0.19},
      "axis":{"title":null,"labelAngle":-90,"labelFontSize":13,"labelPadding":3,"tickBand":"extent","tickSize":5,"grid":false}},
    "y":{"field":"v","type":"quantitative","stack":"zero","scale":{"domain":[0,250],"nice":false},
      "axis":{"title":null,"values":[0,50,100,150,200,250],"labelFontSize":13.5,"tickSize":4,"labelPadding":6,"gridColor":"#bfbfbf"}},
    "color":{"field":"k","type":"nominal","scale":{"domain":["Pozostałe branże","Działalność związana z obsługą rynku nieruchomości","budownictwo (firmy budowlane)"],"range":["#5ab7d3","#5b2d82","#06796a"]},
      "legend":{"title":null,"orient":"none","legendX":29,"legendY":243,"columns":1,"symbolType":"square","symbolSize":70,"labelFontSize":12.5,"labelOffset":4,"rowPadding":5}},
    "order":{"value":0}
   }}
 ],"spacing":0,"bounds":"flush","resolve":{"scale":{"color":"independent","strokeDash":"independent"},"legend":{"color":"independent","strokeDash":"independent"}}},
 {"width":1,"height":204,"data":{"values":[]},"mark":"point"},
 {"hconcat":[
  {"width":5,"height":102.5,"data":{"values":[]},"mark":"point"},
  {"width":486,"height":102.5,"data":{"values":[]},"mark":"point",
   "title":{"text":["Uwaga: dane zostały znormalizowane, II kwartał 2007 r. = 100.","WIG deweloperów notowany jest od II kwartału 2007 r.","I 2016 stan na 16 lutego br."],"subtitle":"Źródło: Giełda Papierów Wartościowych.","orient":"bottom","fontSize":16.4,"lineHeight":21.7,"subtitleFontSize":16.4,"subtitlePadding":7,"offset":0}},
  {"width":400,"height":102.5,"data":{"values":[]},"mark":"point",
   "title":{"text":["Uwaga: podział wg pierwszego wpisu w KRS. Dane przedstawiają","jedynie firmy, wobec których zostało przeprowadzone oficjalne","postępowanie upadłościowe, nie uwzględniają przedsiębiorców,","którzy zakończyli aktywność gospodarczą poprzez likwidację lub","zawieszenie działalności."],"subtitle":"Źródło: Coface Poland.","orient":"bottom","fontSize":16.4,"lineHeight":21.5,"subtitleFontSize":16.4,"subtitlePadding":7,"offset":0}}
 ],"spacing":0,"bounds":"flush"},
 {"width":1,"height":505,"data":{"values":[]},"mark":"point"},
 {"hconcat":[
  {"width":8,"height":1.5,"data":{"values":[]},"mark":"point"},
  {"width":20,"height":1.5,"view":{"fill":"#404040"},"data":{"values":[]},"mark":"point",
   "title":{"text":"14","orient":"bottom","anchor":"middle","fontSize":15,"offset":4.5}},
  {"width":709,"height":1.5,"data":{"values":[]},"mark":"point"},
  {"width":200,"height":1.5,"data":{"values":[]},"mark":"point",
   "title":{"text":"Narodowy Bank Polski","orient":"bottom","fontSize":17.5,"color":"#2f7566","offset":1}}
 ],"spacing":0,"bounds":"flush"},
 {"width":1,"height":24.5,"data":{"values":[]},"mark":"point"},
 {"hconcat":[
  {"width":8,"height":1.5,"data":{"values":[]},"mark":"point"},
  {"width":20,"height":1.5,"view":{"fill":"#404040"},"data":{"values":[]},"mark":"point"}
 ],"spacing":0,"bounds":"flush"}
]
}
